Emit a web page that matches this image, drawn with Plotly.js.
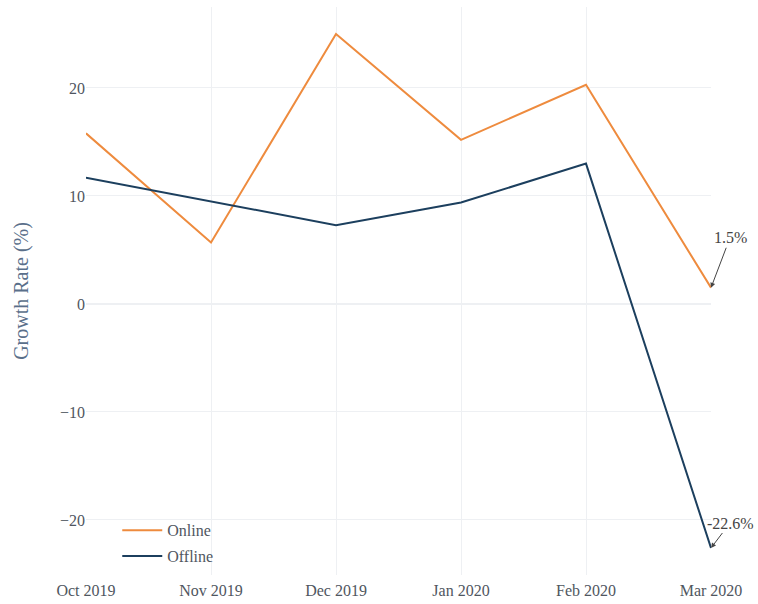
<!DOCTYPE html>
<html>
<head>
<meta charset="utf-8">
<script src="https://cdn.plot.ly/plotly-3.0.1.min.js"></script>
<style>html,body{margin:0;padding:0;background:#fff;}#chart{width:758px;height:604px;}</style>
</head>
<body>
<div id="chart"></div>
<script>
const months = ["Oct 2019", "Nov 2019", "Dec 2019", "Jan 2020", "Feb 2020", "Mar 2020"];
const online = [15.8, 5.7, 25.0, 15.2, 20.3, 1.5];
const offline = [11.7, 9.5, 7.3, 9.4, 13.0, -22.6];
const seriesNames = ["Online", "Offline"];
const lastLabels = ["1.5%", "-22.6%"];

const fontFam = "Liberation Serif, Times New Roman, serif";
const traces = [
  {x: months, y: online, name: seriesNames[0], legendgroup: "a", mode: "lines", type: "scatter",
   line: {color: "#EE8B3E", width: 2}},
  {x: months, y: offline, name: seriesNames[1], legendgroup: "b", mode: "lines", type: "scatter",
   line: {color: "#1C3F5E", width: 2}}
];
const layout = {
  width: 758, height: 604,
  margin: {l: 86, r: 47, t: 7, b: 29},
  paper_bgcolor: "#fff", plot_bgcolor: "#fff",
  font: {family: fontFam, size: 16, color: "#4f5660"},
  showlegend: true,
  legend: {x: 0.05, y: 0.003, xanchor: "left", yanchor: "bottom", bgcolor: "rgba(0,0,0,0)",
           itemwidth: 40, tracegroupgap: 2, traceorder: "grouped",
           font: {family: fontFam, size: 16, color: "#4f5660"}},
  xaxis: {type: "category", range: [0, 5], showgrid: true, gridcolor: "#EEF0F3",
          zeroline: false, showline: false, ticks: "", ticklabelstandoff: 4,
          tickfont: {family: fontFam, size: 16, color: "#4f5660"}},
  yaxis: {range: [-25.1, 27.5], dtick: 10, showgrid: true, gridcolor: "#EEF0F3",
          zeroline: true, zerolinecolor: "#EEF0F3", zerolinewidth: 2, showline: false, ticks: "",
          tickfont: {family: fontFam, size: 16, color: "#4f5660"},
          title: {text: "Growth Rate (%)", font: {family: fontFam, size: 20, color: "#5a6f8a"}, standoff: 25}},
  annotations: [
    {x: months[5], y: online[5], text: lastLabels[0], showarrow: true, arrowhead: 2, arrowsize: 1,
     arrowwidth: 1, arrowcolor: "#444", ax: 19, ay: -50, font: {family: fontFam, size: 16, color: "#444"}},
    {x: months[5], y: offline[5], text: lastLabels[1], showarrow: true, arrowhead: 2, arrowsize: 1,
     arrowwidth: 1, arrowcolor: "#444", ax: 19, ay: -25, font: {family: fontFam, size: 16, color: "#444"}}
  ]
};
Plotly.newPlot("chart", traces, layout, {displayModeBar: false, staticPlot: true});
</script>
</body>
</html>
